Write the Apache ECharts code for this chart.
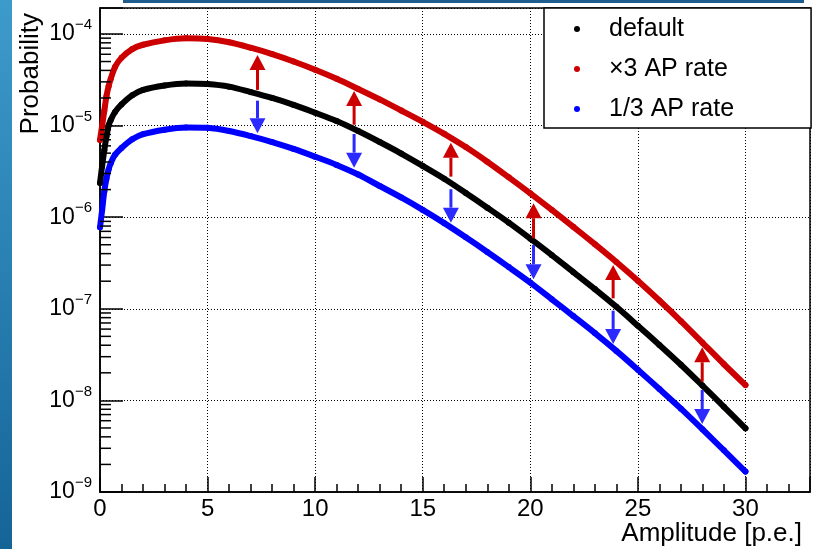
<!DOCTYPE html>
<html>
<head>
<meta charset="utf-8">
<script src="https://cdn.jsdelivr.net/npm/echarts@6/dist/echarts.min.js"></script>
<style>
html,body{margin:0;padding:0;background:#fff}
#main{width:819px;height:549px}
</style>
</head>
<body>
<div id="main"></div>
<script>
var FONT = '"Liberation Sans", Arial, sans-serif';

// amplitude in p.e.
var amplitude = [0, 0.1, 0.2, 0.3, 0.4, 0.5, 0.7, 1, 1.5, 2,
  3, 4, 5, 6, 7, 8, 9, 10, 11, 12, 13, 14, 15, 16, 17, 18, 19, 20,
  21, 22, 23, 24, 25, 26, 27, 28, 29, 30];

var probDefault = [2.36e-6, 3.63e-6, 5.37e-6, 7.59e-6, 1.0e-5, 1.15e-5, 1.41e-5, 1.70e-5, 2.14e-5, 2.45e-5,
  2.74e-5, 2.88e-5, 2.84e-5, 2.66e-5, 2.32e-5, 2.0e-5, 1.68e-5, 1.38e-5, 1.12e-5, 8.71e-6,
  6.61e-6, 4.95e-6, 3.63e-6, 2.63e-6, 1.84e-6, 1.27e-6, 8.71e-7, 5.82e-7,
  3.85e-7, 2.51e-7, 1.64e-7, 1.05e-7, 6.53e-8, 4.03e-8, 2.45e-8, 1.45e-8, 8.51e-9, 4.95e-9];

var probX3 = [6.97e-6, 1.0e-5, 1.45e-5, 2.09e-5, 2.69e-5, 3.24e-5, 4.37e-5, 5.5e-5, 6.84e-5, 7.62e-5,
  8.51e-5, 8.95e-5, 8.81e-5, 8.13e-5, 7.08e-5, 6.03e-5, 5.01e-5, 4.07e-5, 3.24e-5, 2.51e-5,
  1.93e-5, 1.46e-5, 1.10e-5, 8.13e-6, 5.82e-6, 4.03e-6, 2.72e-6, 1.82e-6,
  1.20e-6, 7.85e-7, 5.07e-7, 3.24e-7, 2.02e-7, 1.23e-7, 7.33e-8, 4.27e-8, 2.48e-8, 1.47e-8];

var probThird = [7.76e-7, 1.20e-6, 1.91e-6, 2.63e-6, 3.31e-6, 3.89e-6, 4.79e-6, 5.69e-6, 7.08e-6, 8.04e-6,
  9.02e-6, 9.55e-6, 9.44e-6, 8.71e-6, 7.67e-6, 6.61e-6, 5.56e-6, 4.57e-6, 3.72e-6, 2.92e-6,
  2.19e-6, 1.64e-6, 1.20e-6, 8.61e-7, 6.03e-7, 4.17e-7, 2.85e-7, 1.93e-7,
  1.27e-7, 8.32e-8, 5.43e-8, 3.47e-8, 2.16e-8, 1.33e-8, 8.13e-9, 4.84e-9, 2.85e-9, 1.67e-9];

// arrows between the curves
var arrowAmp = [7.32, 11.81, 16.31, 20.15, 23.85, 27.99];
var upFrom = [2.45e-5, 1.02e-5, 2.77e-6, 5.89e-7, 1.30e-7, 1.60e-8];
var upTo = [5.90e-5, 2.39e-5, 6.50e-6, 1.42e-6, 3.01e-7, 3.80e-8];
var downFrom = [1.87e-5, 8.09e-6, 2.02e-6, 4.98e-7, 9.53e-8, 1.30e-8];
var downTo = [8.24e-6, 3.47e-6, 8.71e-7, 2.10e-7, 4.13e-8, 5.52e-9];

var xTickLabels = [0, 5, 10, 15, 20, 25, 30];
var yDecades = [-9, -8, -7, -6, -5, -4];

function pairs(ys) {
  return amplitude.map(function (a, i) { return [a, ys[i]]; });
}

// log minor ticks 2..9 per decade
var yMinor = [];
yDecades.forEach(function (d) {
  for (var m = 2; m <= 9; m++) {
    var v = m * Math.pow(10, d);
    if (v < 1.92e-4) yMinor.push([0, v]);
  }
});

function arrowRender(color) {
  return function (params, api) {
    var a = api.coord([api.value(0), api.value(1)]);
    var b = api.coord([api.value(0), api.value(2)]);
    var dir = b[1] < a[1] ? -1 : 1;
    var base = b[1] - dir * 15;
    return {
      type: 'group',
      children: [
        { type: 'line', shape: { x1: a[0], y1: a[1], x2: a[0], y2: base }, style: { stroke: color, lineWidth: 3 } },
        { type: 'polygon', shape: { points: [[b[0], b[1]], [b[0] - 8, base], [b[0] + 8, base]] }, style: { fill: color } }
      ]
    };
  };
}

function curve(name, ys, color) {
  return {
    name: name, type: 'line', data: pairs(ys), smooth: 0.3,
    symbol: 'circle', symbolSize: 6, showSymbol: true,
    itemStyle: { color: color },
    lineStyle: { color: color, width: 6, cap: 'round', join: 'round' },
    z: 3
  };
}

var chart = echarts.init(document.getElementById('main'));
var option = {
  animation: false,
  backgroundColor: '#fff',
  graphic: [
    { type: 'rect', shape: { x: 0, y: 0, width: 12, height: 549 },
      style: { fill: new echarts.graphic.LinearGradient(0, 0, 0, 1, [{ offset: 0, color: '#3d9bcb' }, { offset: 1, color: '#156498' }]) } },
    { type: 'rect', shape: { x: 123, y: 0, width: 681, height: 3 }, style: { fill: '#1f5d8e' } },
    { type: 'text', x: 31, y: 13, rotation: Math.PI / 2,
      style: { text: 'Probability', fontSize: 26, fontFamily: FONT, fill: '#000', align: 'right', verticalAlign: 'middle' } }
  ],
  grid: { left: 100, top: 8, right: 9, bottom: 57, show: true, borderColor: '#000', borderWidth: 1.5 },
  legend: {
    orient: 'vertical', left: 544, top: 8,
    padding: [6, 77, 4, 30], itemGap: 10, itemWidth: 6, itemHeight: 6,
    backgroundColor: '#fff', borderColor: '#000', borderWidth: 1.5,
    textStyle: { fontSize: 25, fontFamily: FONT, color: '#000', lineHeight: 30, padding: [0, 0, 0, 24] },
    data: [
      { name: 'default', icon: 'circle' },
      { name: '\u00d73 AP rate', icon: 'circle' },
      { name: '1/3 AP rate', icon: 'circle' }
    ]
  },
  xAxis: [{
    type: 'value', min: 0, max: 33, interval: 5, position: 'bottom',
    axisLine: { lineStyle: { color: '#000', width: 1.5 } },
    axisTick: { inside: true, length: 15, lineStyle: { color: '#000', width: 1.5 } },
    axisLabel: {
      margin: 5, fontSize: 24, fontFamily: FONT, color: '#000',
      formatter: function (v) { return xTickLabels.indexOf(v) >= 0 ? String(v) : ''; }
    },
    splitLine: { show: true, lineStyle: { color: '#000', width: 1, type: [1, 2] } },
    name: 'Amplitude [p.e.]', nameLocation: 'end', nameGap: -8,
    nameTextStyle: { fontSize: 26, fontFamily: FONT, color: '#000', align: 'right', verticalAlign: 'top', padding: [29, 0, 0, 0] }
  }, {
    type: 'value', min: 0, max: 33, interval: 1, position: 'bottom',
    axisLine: { show: false },
    axisTick: { inside: true, length: 8, lineStyle: { color: '#000', width: 1.5 } },
    axisLabel: { show: false },
    splitLine: { show: false }
  }],
  yAxis: {
    type: 'log', logBase: 10, min: 1e-9, max: 1.92e-4,
    axisLine: { show: true, lineStyle: { color: '#000', width: 1.5 } },
    axisTick: { inside: true, length: 23, lineStyle: { color: '#000', width: 1.5 } },
    axisLabel: {
      margin: 8, color: '#000', fontFamily: FONT,
      formatter: function (v) {
        var e = Math.round(Math.log10(v));
        if (yDecades.indexOf(e) < 0 || Math.abs(Math.log10(v) - e) > 1e-6) return '';
        return '{b|10}{s|\u2212' + (-e) + '}';
      },
      rich: {
        b: { fontSize: 23, fontFamily: FONT, color: '#000' },
        s: { fontSize: 15, fontFamily: FONT, color: '#000', padding: [0, 0, 18, 0] }
      }
    },
    splitLine: { show: true, lineStyle: { color: '#000', width: 1, type: [1, 2] } }
  },
  series: [
    curve('default', probDefault, '#000'),
    curve('\u00d73 AP rate', probX3, '#cc0000'),
    curve('1/3 AP rate', probThird, '#0000ff'),
    {
      type: 'custom', name: 'up', silent: true, z: 5,
      data: arrowAmp.map(function (x, i) { return [x, upFrom[i], upTo[i]]; }),
      encode: { x: 0, y: [1, 2] },
      renderItem: arrowRender('#cc0000')
    },
    {
      type: 'custom', name: 'down', silent: true, z: 5,
      data: arrowAmp.map(function (x, i) { return [x, downFrom[i], downTo[i]]; }),
      encode: { x: 0, y: [1, 2] },
      renderItem: arrowRender('#2b2bff')
    },
    {
      type: 'custom', name: 'minor', silent: true, z: 4,
      data: yMinor,
      encode: { x: 0, y: 1 },
      renderItem: function (params, api) {
        var p = api.coord([api.value(0), api.value(1)]);
        return { type: 'line', shape: { x1: p[0], y1: p[1], x2: p[0] + 11, y2: p[1] }, style: { stroke: '#000', lineWidth: 1.5 } };
      }
    }
  ]
};
chart.setOption(option);
</script>
</body>
</html>
